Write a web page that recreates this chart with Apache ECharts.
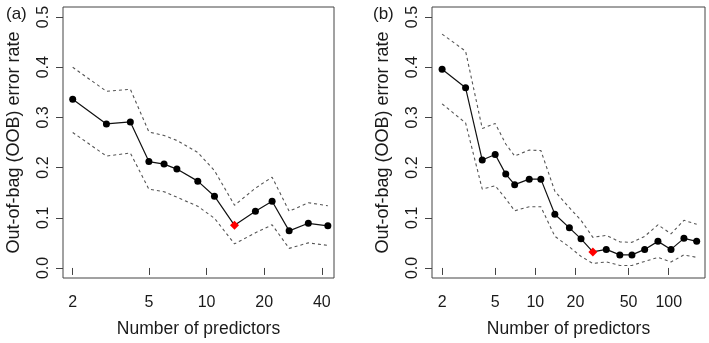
<!DOCTYPE html>
<html>
<head>
<meta charset="utf-8">
<script src="https://cdn.jsdelivr.net/npm/echarts@6/dist/echarts.min.js"></script>
<style>
  html, body { margin: 0; padding: 0; background: #fff; }
  #chart { width: 709px; height: 343px; }
</style>
</head>
<body>
<div id="chart"></div>
<script>
// panel (a)
var predA = [2, 3, 4, 5, 6, 7, 9, 11, 14, 18, 22, 27, 34, 43];
var errA = [0.336, 0.287, 0.291, 0.212, 0.207, 0.197, 0.173, 0.143, 0.085, 0.113, 0.133, 0.074, 0.089, 0.084];
var upA = [0.400, 0.352, 0.356, 0.271, 0.264, 0.254, 0.230, 0.194, 0.125, 0.159, 0.181, 0.113, 0.130, 0.124];
var loA = [0.270, 0.223, 0.229, 0.157, 0.152, 0.141, 0.123, 0.099, 0.048, 0.070, 0.086, 0.039, 0.050, 0.045];
var selA = 14;
var xTicksA = [2, 5, 10, 20, 40];

// panel (b)
var predB = [2, 3, 4, 5, 6, 7, 9, 11, 14, 18, 22, 27, 34, 43, 53, 66, 83, 104, 130, 162];
var errB = [0.396, 0.359, 0.215, 0.226, 0.187, 0.166, 0.177, 0.177, 0.107, 0.080, 0.058, 0.032, 0.037, 0.026, 0.026, 0.037, 0.053, 0.037, 0.059, 0.053];
var upB = [0.466, 0.432, 0.278, 0.288, 0.247, 0.223, 0.235, 0.234, 0.153, 0.120, 0.095, 0.061, 0.065, 0.052, 0.051, 0.063, 0.086, 0.068, 0.095, 0.087];
var loB = [0.327, 0.289, 0.157, 0.164, 0.138, 0.114, 0.122, 0.122, 0.063, 0.042, 0.023, 0.009, 0.012, 0.005, 0.005, 0.013, 0.021, 0.012, 0.026, 0.021];
var selB = 27;
var xTicksB = [2, 5, 10, 20, 50, 100];

var yTicks = [0, 0.1, 0.2, 0.3, 0.4, 0.5];

var FONT = 'Liberation Sans';
var TXT = '#1a1a1a';
var LINE = '#444';

function lg(v) { return Math.log10(v); }
function pairs(xs, ys) {
    return xs.map(function (x, i) { return [lg(x), ys[i]]; });
}

function xAxisFor(idx, lo, hi, ticks) {
    var custom = ticks.map(lg);
    return {
        gridIndex: idx, type: 'value', min: lg(lo), max: lg(hi),
        name: 'Number of predictors', nameLocation: 'middle', nameGap: 42,
        nameTextStyle: { fontFamily: FONT, fontSize: 17.5, color: TXT },
        axisLine: { show: false },
        axisTick: { show: true, customValues: custom, length: 7, lineStyle: { color: LINE } },
        axisLabel: {
            customValues: custom, margin: 17, fontFamily: FONT, fontSize: 16, color: TXT,
            formatter: function (v) { return Math.round(Math.pow(10, v)); }
        },
        splitLine: { show: false }
    };
}

function yAxisFor(idx) {
    return {
        gridIndex: idx, type: 'value', min: -0.02, max: 0.52,
        name: 'Out-of-bag (OOB) error rate', nameLocation: 'middle', nameGap: 40,
        nameTextStyle: { fontFamily: FONT, fontSize: 18, color: TXT },
        axisLine: { show: false },
        axisTick: { show: true, customValues: yTicks, length: 7, lineStyle: { color: LINE } },
        axisLabel: {
            customValues: yTicks, rotate: 90, margin: 11, fontFamily: FONT, fontSize: 16, color: TXT,
            formatter: function (v) { return v.toFixed(1); }
        },
        splitLine: { show: false }
    };
}

function panelSeries(idx, pred, err, up, lo, sel) {
    var dash = { color: '#555', width: 1.1, type: [3, 3] };
    var pts = pairs(pred, err).map(function (p, i) {
        if (pred[i] === sel) {
            return { value: p, symbol: 'diamond', symbolSize: 9, itemStyle: { color: '#ff0000' } };
        }
        return p;
    });
    return [
        { type: 'line', xAxisIndex: idx, yAxisIndex: idx, data: pairs(pred, up), showSymbol: false, lineStyle: dash, z: 2 },
        { type: 'line', xAxisIndex: idx, yAxisIndex: idx, data: pairs(pred, lo), showSymbol: false, lineStyle: dash, z: 2 },
        {
            type: 'line', xAxisIndex: idx, yAxisIndex: idx, data: pts,
            symbol: 'circle', symbolSize: 7, showSymbol: true,
            lineStyle: { color: '#111', width: 1.2 }, itemStyle: { color: '#000' }, z: 3
        }
    ];
}

var myChart = echarts.init(document.getElementById('chart'), null, { renderer: 'canvas' });

var option = {
    animation: false,
    backgroundColor: '#fff',
    title: [
        { text: '(a)', left: 1, top: 1, textStyle: { fontFamily: FONT, fontSize: 17, fontWeight: 'normal', color: TXT } },
        { text: '(b)', left: 368, top: 1, textStyle: { fontFamily: FONT, fontSize: 17, fontWeight: 'normal', color: TXT } }
    ],
    grid: [
        { left: 63, top: 7, width: 271, height: 278.5, show: true, borderColor: LINE, borderWidth: 1, containLabel: false },
        { left: 432, top: 7, width: 273, height: 278.5, show: true, borderColor: LINE, borderWidth: 1, containLabel: false }
    ],
    xAxis: [xAxisFor(0, 1.78, 46.3, xTicksA), xAxisFor(1, 1.68, 187, xTicksB)],
    yAxis: [yAxisFor(0), yAxisFor(1)],
    series: panelSeries(0, predA, errA, upA, loA, selA).concat(panelSeries(1, predB, errB, upB, loB, selB))
};

myChart.setOption(option);
</script>
</body>
</html>
